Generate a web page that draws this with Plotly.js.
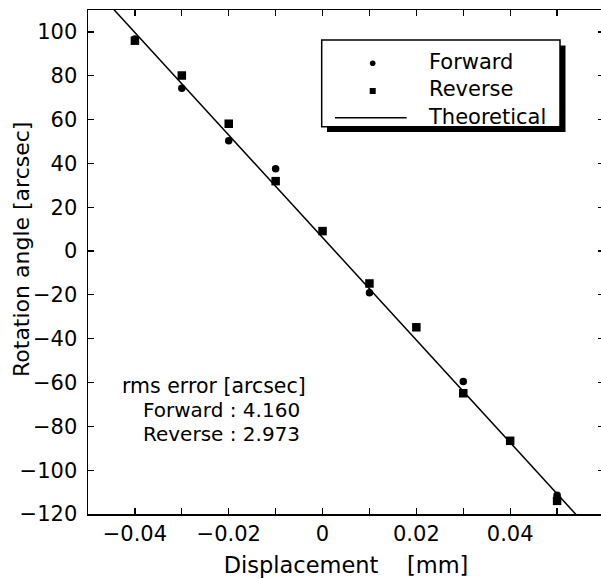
<!DOCTYPE html>
<html>
<head>
<meta charset="utf-8">
<script src="https://cdn.plot.ly/plotly-3.0.1.min.js"></script>
<style>
html,body{margin:0;padding:0;overflow:hidden;background:#fff;}
#chart{width:606px;height:579px;}
</style>
</head>
<body>
<div id="chart"></div>
<script>
// Displacement [mm]
var displacement = [-0.04, -0.03, -0.02, -0.01, 0, 0.01, 0.02, 0.03, 0.04, 0.05];
// Rotation angle [arcsec]
var forwardAngle = [96.8, 74.3, 50.3, 37.6, 9.1, -19.0, -34.8, -59.5, -86.6, -111.5];
var reverseAngle = [96.0, 80.1, 58.1, 31.9, 9.1, -14.8, -34.8, -64.9, -86.6, -114.0];
// Theoretical line (end points)
var theoryX = [-0.05, 0.06];
var theoryY = [123.1, -134.2];

var seriesNames = ['Forward', 'Reverse', 'Theoretical'];
var rmsForward = '4.160';
var rmsReverse = '2.973';

var xTickVals = [-0.04, -0.02, 0, 0.02, 0.04];
var xTickText = ['\u22120.04', '\u22120.02', '0', '0.02', '0.04'];
var yTickVals = [100, 80, 60, 40, 20, 0, -20, -40, -60, -80, -100, -120];
var yTickText = ['100', '80', '60', '40', '20', '0', '\u221220', '\u221240', '\u221260', '\u221280', '\u2212100', '\u2212120'];

var FONT = 'DejaVu Sans, Arial, sans-serif';
var BLACK = '#000';

// plot-area pixel geometry helpers (paper coords)
var PL = 88, PW = 516, PT = 10, PH = 504;
function px(x) { return (x - PL) / PW; }
function py(y) { return (PT + PH - y) / PH; }

var traces = [
  {x: displacement, y: forwardAngle, name: seriesNames[0], mode: 'markers', type: 'scatter',
   marker: {symbol: 'circle', size: 7.5, color: BLACK}, showlegend: false},
  {x: displacement, y: reverseAngle, name: seriesNames[1], mode: 'markers', type: 'scatter',
   marker: {symbol: 'square', size: 8.5, color: BLACK}, showlegend: false},
  {x: theoryX, y: theoryY, name: seriesNames[2], mode: 'lines', type: 'scatter',
   line: {color: BLACK, width: 1.5}, showlegend: false}
];

var nb = '\u00a0';
var rmsText =
  '<span style="font-size:20.5px">rms error [arcsec]</span><br>' +
  '<span style="font-size:22px">' + nb + nb + nb + '</span><span style="font-size:20px">Forward : ' + rmsForward + '</span><br>' +
  '<span style="font-size:22px">' + nb + nb + nb + '</span><span style="font-size:20px">Reverse : ' + rmsReverse + '</span>';

var layout = {
  width: 606, height: 579,
  margin: {l: PL, r: 606 - PL - PW, t: PT, b: 579 - PT - PH},
  paper_bgcolor: '#fff', plot_bgcolor: '#fff',
  font: {family: FONT, size: 21, color: BLACK},
  showlegend: false,
  xaxis: {
    range: [-0.05, 0.06], showgrid: false, zeroline: false,
    showline: true, linecolor: BLACK, linewidth: 1.5, mirror: 'allticks',
    ticks: 'inside', ticklen: 6, tickwidth: 1.2, tickcolor: BLACK,
    tickvals: xTickVals, ticktext: xTickText,
    minor: {dtick: 0.01, tick0: 0, ticks: 'inside', ticklen: 6, tickwidth: 1.2, tickcolor: BLACK, showgrid: false},
    tickfont: {family: FONT, size: 21, color: BLACK},
    title: {text: 'Displacement' + nb + nb + nb + nb + '[mm]' + nb + nb + nb,
            font: {family: FONT, size: 22.5, color: BLACK}, standoff: 12}
  },
  yaxis: {
    range: [-120, 110], showgrid: false, zeroline: false,
    showline: true, linecolor: BLACK, linewidth: 1.5, mirror: 'allticks',
    ticks: 'inside', ticklen: 6, tickwidth: 1.2, tickcolor: BLACK,
    tickvals: yTickVals, ticktext: yTickText, ticklabelstandoff: 5,
    tickfont: {family: FONT, size: 21, color: BLACK}
  },
  shapes: [
    // legend shadow and box
    {type: 'rect', xref: 'paper', yref: 'paper', layer: 'above',
     x0: px(327), x1: px(565.5), y0: py(132), y1: py(45.5),
     fillcolor: BLACK, line: {width: 0}},
    {type: 'rect', xref: 'paper', yref: 'paper', layer: 'above',
     x0: px(321.7), x1: px(560), y0: py(126.7), y1: py(40),
     fillcolor: '#fff', line: {color: BLACK, width: 1.5}},
    // legend keys
    {type: 'circle', xref: 'paper', yref: 'paper', layer: 'above',
     xsizemode: 'pixel', ysizemode: 'pixel', xanchor: px(372.7), yanchor: py(63.3),
     x0: -2.8, x1: 2.8, y0: -2.8, y1: 2.8, fillcolor: BLACK, line: {width: 0}},
    {type: 'rect', xref: 'paper', yref: 'paper', layer: 'above',
     xsizemode: 'pixel', ysizemode: 'pixel', xanchor: px(372.7), yanchor: py(91),
     x0: -3, x1: 3, y0: -3, y1: 3, fillcolor: BLACK, line: {width: 0}},
    {type: 'line', xref: 'paper', yref: 'paper', layer: 'above',
     x0: px(335), x1: px(406.7), y0: py(117.7), y1: py(117.7),
     line: {color: BLACK, width: 1.5}}
  ],
  annotations: [
    // legend labels
    {xref: 'paper', yref: 'paper', x: px(426), y: py(47.8), xanchor: 'left', yanchor: 'top',
     align: 'left', showarrow: false,
     text: seriesNames.join('<br>'),
     font: {family: FONT, size: 21, color: BLACK}},
    // rms error block
    {xref: 'paper', yref: 'paper', x: px(119.7), y: py(410), xanchor: 'left', yanchor: 'middle',
     align: 'left', showarrow: false, text: rmsText,
     font: {family: FONT, size: 18.4, color: BLACK}},
    // y axis title
    {xref: 'paper', yref: 'paper', x: px(21), y: py(250), xanchor: 'center', yanchor: 'middle',
     textangle: -90, showarrow: false, text: 'Rotation angle [arcsec]',
     font: {family: FONT, size: 22, color: BLACK}}
  ]
};

Plotly.newPlot('chart', traces, layout, {displayModeBar: false, staticPlot: true});
</script>
</body>
</html>
